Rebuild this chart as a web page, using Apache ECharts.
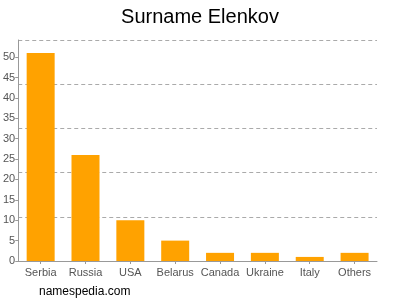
<!DOCTYPE html>
<html><head><meta charset="utf-8">
<script src="https://cdn.jsdelivr.net/npm/echarts@6/dist/echarts.min.js"></script>
<style>html,body{margin:0;padding:0;background:#fff}#c{width:400px;height:300px}</style>
</head><body><div id="c"></div>
<script>
const categories = ['Serbia','Russia','USA','Belarus','Canada','Ukraine','Italy','Others'];
const counts = [51, 26, 10, 5, 2, 2, 1, 2];
const yTicks = [0,5,10,15,20,25,30,35,40,45,50];
const titleText = 'Surname Elenkov';
const footerText = 'namespedia.com';

const chart = echarts.init(document.getElementById('c'), null, {renderer:'canvas'});
chart.setOption({
  animation:false,
  backgroundColor:'#fff',
  title:[
    {text:titleText,left:'center',top:2,textStyle:{fontFamily:'Liberation Sans, Arial, sans-serif',fontSize:20,fontWeight:'normal',color:'#000'}},
    {text:footerText,left:34,top:281,textStyle:{fontFamily:'Liberation Sans, Arial, sans-serif',fontSize:12,fontWeight:'normal',color:'#000'}}
  ],
  grid:{left:17,right:23,top:40,bottom:39,containLabel:false},
  xAxis:{type:'category',data:categories,
    axisLine:{lineStyle:{color:'#999'}},
    axisTick:{show:true,alignWithLabel:true,length:3,lineStyle:{color:'#999'}},
    axisLabel:{color:'#555',fontSize:11,fontFamily:'Liberation Sans, Arial, sans-serif',margin:6,interval:0}},
  yAxis:[
    {type:'value',min:0,max:54.2,
      axisLine:{show:true,lineStyle:{color:'#999'}},
      axisTick:{show:true,length:3,customValues:yTicks,lineStyle:{color:'#999'}},
      axisLabel:{customValues:yTicks,color:'#555',fontSize:11,fontFamily:'Liberation Sans, Arial, sans-serif',margin:3},
      splitLine:{show:false}},
    {type:'value',min:0,max:5,interval:1,position:'left',
      axisLine:{show:false},axisTick:{show:false},axisLabel:{show:false},
      splitLine:{show:true,lineStyle:{color:'#aaa',type:[4,3],width:1}}}
  ],
  series:[{type:'bar',data:counts,yAxisIndex:0,barWidth:28,
    itemStyle:{color:'#ffa200'}}]
});
</script></body></html>
